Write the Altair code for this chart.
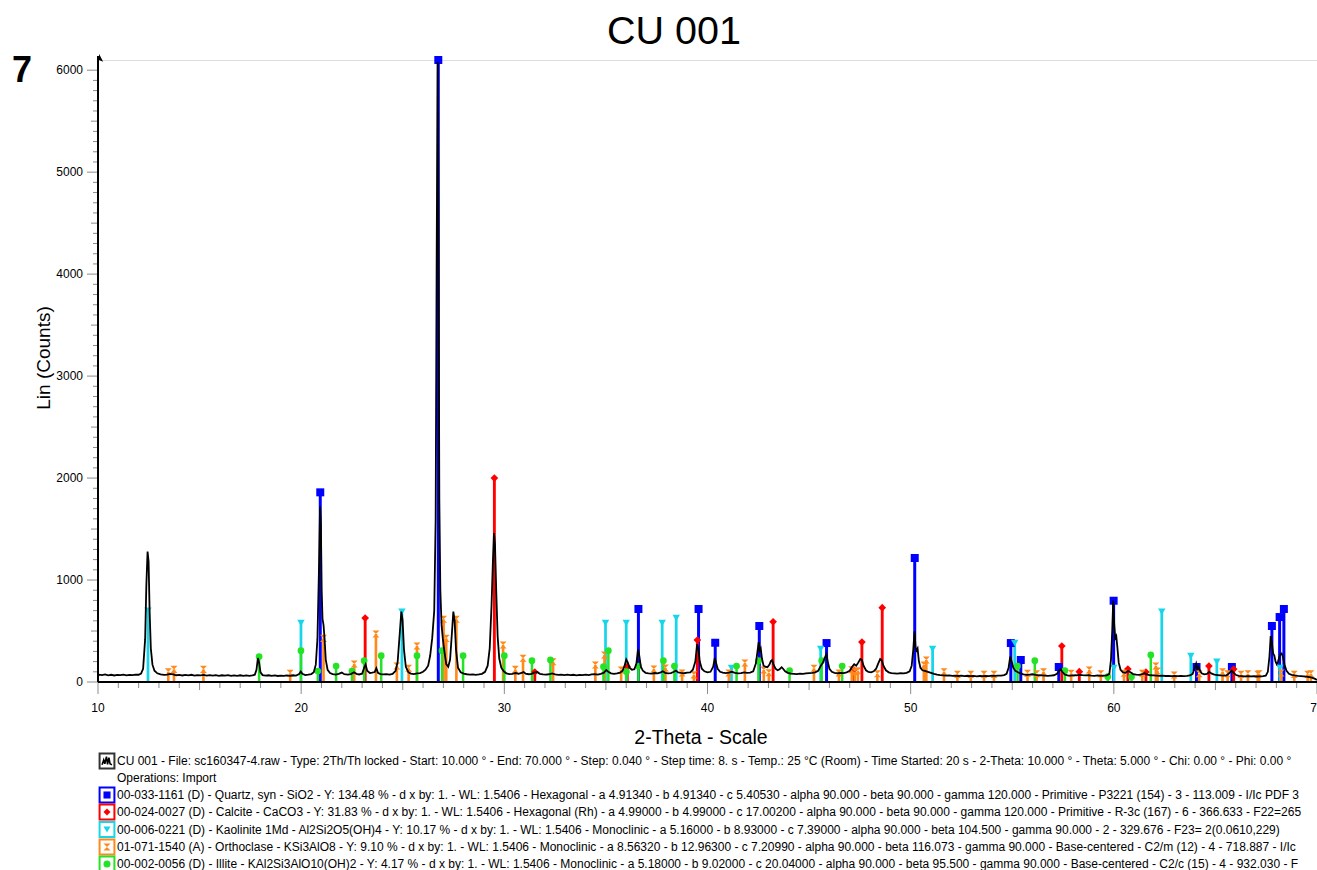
import altair as alt
import pandas as pd

# ---------------- measured scan (2-theta, counts) ----------------
scan_10_20 = [
    (10.00, 55), (10.05, 72), (10.20, 68), (10.35, 74), (10.50, 66), (10.65, 71), (10.80, 64),
    (10.95, 70), (11.10, 67), (11.25, 73), (11.40, 65), (11.55, 70), (11.70, 68), (11.85, 72),
    (12.00, 71), (12.12, 82), (12.22, 130), (12.32, 420), (12.38, 950), (12.44, 1280), (12.49, 1180),
    (12.54, 700), (12.60, 330), (12.68, 170), (12.78, 110), (12.92, 85), (13.08, 74), (13.25, 70),
    (13.40, 73), (13.55, 79), (13.70, 75), (13.85, 66), (14.00, 69), (14.15, 64), (14.30, 70),
    (14.45, 66), (14.60, 71), (14.75, 63), (14.90, 68), (15.05, 65), (15.20, 70), (15.35, 62),
    (15.50, 67), (15.65, 63), (15.80, 68), (15.95, 61), (16.10, 66), (16.25, 62), (16.40, 67),
    (16.55, 60), (16.70, 65), (16.85, 61), (17.00, 66), (17.15, 60), (17.30, 64), (17.45, 61),
    (17.60, 66), (17.72, 72), (17.80, 120), (17.87, 235), (17.93, 190), (18.00, 95), (18.10, 68),
    (18.25, 62), (18.40, 66), (18.55, 60), (18.70, 64), (18.85, 59), (19.00, 63), (19.15, 60),
    (19.30, 65), (19.45, 61), (19.60, 66), (19.75, 63), (19.90, 78), (19.98, 102),
]
scan_20_30 = [
    (20.06, 80), (20.20, 68), (20.35, 72), (20.50, 78), (20.62, 95), (20.72, 170), (20.80, 420),
    (20.87, 1050), (20.93, 1720), (20.97, 1560), (21.01, 900), (21.05, 620), (21.10, 560),
    (21.15, 430), (21.21, 220), (21.30, 120), (21.42, 88), (21.55, 78), (21.70, 72), (21.85, 80),
    (22.00, 92), (22.12, 76), (22.30, 72), (22.45, 78), (22.60, 96), (22.72, 80), (22.85, 74),
    (23.00, 82), (23.10, 140), (23.17, 172), (23.25, 110), (23.38, 88), (23.50, 92), (23.62, 98),
    (23.70, 135), (23.78, 90), (23.90, 78), (24.05, 74), (24.20, 78), (24.35, 72), (24.50, 80),
    (24.65, 110), (24.75, 200), (24.85, 470), (24.93, 690), (24.99, 610), (25.06, 320), (25.15, 150),
    (25.28, 95), (25.40, 82), (25.55, 78), (25.70, 84), (25.85, 88), (26.00, 100), (26.12, 120),
    (26.25, 160), (26.35, 260), (26.45, 430), (26.55, 700), (26.62, 1600), (26.67, 4200),
    (26.72, 6080), (26.76, 4400), (26.80, 1800), (26.85, 900), (26.91, 560), (26.97, 430),
    (27.05, 300), (27.14, 175), (27.24, 150), (27.33, 220), (27.42, 480), (27.49, 690), (27.55, 610),
    (27.62, 320), (27.72, 140), (27.85, 95), (28.00, 82), (28.15, 76), (28.30, 72), (28.45, 75),
    (28.60, 70), (28.75, 74), (28.90, 80), (29.05, 100), (29.18, 160), (29.28, 330), (29.37, 750),
    (29.44, 1200), (29.49, 1460), (29.54, 1350), (29.60, 900), (29.67, 450), (29.75, 230),
    (29.85, 140), (29.97, 105),
]
scan_30_40 = [
    (30.10, 85), (30.25, 78), (30.40, 80), (30.55, 88), (30.70, 80), (30.85, 90), (30.95, 97),
    (31.05, 82), (31.20, 76), (31.35, 80), (31.50, 95), (31.62, 98), (31.75, 80), (31.90, 74),
    (32.05, 72), (32.20, 76), (32.35, 84), (32.50, 74), (32.65, 70), (32.80, 73), (32.95, 68),
    (33.10, 72), (33.25, 67), (33.40, 71), (33.55, 66), (33.70, 70), (33.85, 68), (34.00, 73),
    (34.15, 68), (34.30, 74), (34.45, 78), (34.60, 72), (34.75, 80), (34.90, 92), (35.02, 118),
    (35.12, 100), (35.25, 85), (35.40, 80), (35.55, 84), (35.70, 92), (35.82, 110), (35.92, 160),
    (36.00, 220), (36.08, 190), (36.16, 140), (36.28, 120), (36.40, 125), (36.50, 180), (36.58, 320),
    (36.64, 260), (36.72, 150), (36.82, 110), (36.95, 90), (37.10, 85), (37.25, 82), (37.40, 88),
    (37.55, 84), (37.70, 95), (37.80, 105), (37.92, 90), (38.05, 85), (38.20, 88), (38.35, 100),
    (38.45, 112), (38.55, 95), (38.70, 90), (38.85, 86), (39.00, 92), (39.15, 95), (39.28, 120),
    (39.40, 200), (39.49, 370), (39.55, 330), (39.62, 200), (39.72, 130), (39.85, 105),
]
scan_40_50 = [
    (40.00, 95), (40.15, 100), (40.28, 150), (40.36, 235), (40.42, 190), (40.50, 130), (40.62, 100),
    (40.75, 92), (40.90, 88), (41.05, 92), (41.20, 100), (41.35, 90), (41.50, 85), (41.65, 88),
    (41.80, 94), (41.95, 90), (42.10, 92), (42.25, 105), (42.38, 180), (42.46, 300), (42.52, 390),
    (42.57, 310), (42.62, 330), (42.68, 230), (42.76, 160), (42.85, 150), (42.95, 145), (43.05, 170),
    (43.12, 205), (43.18, 215), (43.25, 170), (43.35, 130), (43.45, 115), (43.55, 125), (43.65, 145),
    (43.72, 130), (43.82, 105), (43.95, 90), (44.10, 82), (44.25, 80), (44.40, 78), (44.55, 82),
    (44.70, 80), (44.85, 85), (45.00, 88), (45.15, 90), (45.30, 95), (45.45, 110), (45.58, 160),
    (45.68, 190), (45.78, 240), (45.85, 275), (45.92, 200), (46.00, 130), (46.12, 100), (46.25, 90),
    (46.40, 86), (46.55, 90), (46.70, 88), (46.85, 95), (47.00, 110), (47.12, 150), (47.22, 175),
    (47.32, 160), (47.42, 190), (47.52, 225), (47.60, 215), (47.68, 160), (47.80, 115), (47.92, 98),
    (48.05, 95), (48.18, 105), (48.30, 130), (48.40, 180), (48.50, 225), (48.58, 210), (48.66, 160),
    (48.78, 115), (48.92, 95), (49.05, 88), (49.20, 85), (49.35, 82), (49.50, 86), (49.65, 84),
    (49.80, 90), (49.95, 105),
]
scan_50_60 = [
    (50.05, 160), (50.13, 320), (50.19, 500), (50.24, 340), (50.29, 310), (50.34, 330), (50.40, 210),
    (50.48, 140), (50.58, 115), (50.70, 110), (50.85, 100), (51.00, 90), (51.15, 80), (51.30, 72),
    (51.45, 68), (51.60, 65), (51.75, 62), (51.90, 64), (52.05, 60), (52.20, 63), (52.35, 59),
    (52.50, 62), (52.65, 58), (52.80, 61), (52.95, 57), (53.10, 60), (53.25, 56), (53.40, 59),
    (53.55, 57), (53.70, 60), (53.85, 58), (54.00, 62), (54.15, 60), (54.30, 63), (54.45, 62),
    (54.60, 68), (54.72, 80), (54.82, 140), (54.90, 250), (54.97, 200), (55.05, 140), (55.15, 110),
    (55.28, 95), (55.40, 85), (55.55, 75), (55.70, 70), (55.85, 72), (56.00, 76), (56.15, 70),
    (56.30, 66), (56.45, 64), (56.60, 62), (56.75, 60), (56.90, 63), (57.05, 66), (57.20, 80),
    (57.30, 110), (57.38, 125), (57.46, 100), (57.58, 75), (57.72, 66), (57.85, 62), (58.00, 64),
    (58.15, 66), (58.30, 70), (58.45, 67), (58.60, 65), (58.75, 66), (58.90, 63), (59.05, 61),
    (59.20, 64), (59.35, 60), (59.50, 63), (59.65, 65), (59.78, 80), (59.86, 220), (59.92, 500),
    (59.97, 800),
]
scan_60_70 = [
    (60.02, 560), (60.07, 430), (60.12, 450), (60.17, 350), (60.24, 190), (60.33, 120), (60.45, 95),
    (60.58, 90), (60.70, 108), (60.82, 95), (60.95, 78), (61.10, 72), (61.25, 70), (61.40, 76),
    (61.52, 85), (61.65, 72), (61.80, 66), (61.95, 64), (62.10, 62), (62.25, 60), (62.40, 63),
    (62.55, 59), (62.70, 61), (62.85, 58), (63.00, 60), (63.15, 57), (63.30, 59), (63.45, 58),
    (63.60, 60), (63.75, 64), (63.88, 80), (63.98, 140), (64.05, 180), (64.10, 130), (64.16, 150),
    (64.22, 120), (64.32, 85), (64.45, 75), (64.58, 80), (64.70, 100), (64.82, 82), (64.95, 72),
    (65.10, 68), (65.25, 64), (65.40, 62), (65.55, 66), (65.70, 90), (65.80, 112), (65.90, 90),
    (66.02, 68), (66.15, 60), (66.30, 58), (66.45, 56), (66.60, 58), (66.75, 55), (66.90, 57),
    (67.05, 54), (67.20, 56), (67.35, 58), (67.48, 62), (67.58, 100), (67.66, 250), (67.72, 450),
    (67.78, 380), (67.84, 280), (67.90, 260), (67.96, 200), (68.02, 175), (68.08, 200), (68.14, 240),
    (68.20, 270), (68.26, 280), (68.32, 250), (68.40, 170), (68.50, 110), (68.62, 80), (68.75, 70),
    (68.90, 64), (69.05, 60), (69.20, 58), (69.35, 55), (69.50, 52), (69.62, 48), (69.75, 42),
    (69.85, 35), (69.93, 28), (70.00, 20),
]

# ---------------- reference patterns (2-theta, stick height in counts) ----------------
quartz_sticks = [
    (20.94, 1860), (26.75, 6100), (36.60, 716), (39.56, 716), (40.38, 385), (42.55, 549),
    (45.86, 382), (50.20, 1216), (54.93, 382), (55.42, 216), (57.29, 147), (59.99, 797),
    (64.07, 147), (65.81, 147), (67.78, 549), (68.16, 637), (68.37, 716),
]
calcite_sticks = [
    (23.15, 627), (29.51, 2000), (31.50, 98), (36.05, 150), (39.50, 412), (43.23, 591),
    (47.18, 118), (47.60, 392), (48.60, 729), (57.44, 353), (58.30, 101), (60.69, 127),
    (61.58, 98), (64.68, 157), (65.90, 127),
]
kaolinite_sticks = [
    (12.46, 700), (19.99, 578), (24.96, 689), (34.98, 578), (36.00, 578), (37.77, 578),
    (38.46, 627), (41.18, 137), (45.57, 324), (51.08, 324), (55.12, 382), (60.00, 137),
    (62.36, 689), (63.79, 255), (65.07, 199), (68.17, 137),
]
orthoclase_sticks = [
    (13.46, 101), (13.74, 124), (15.19, 124), (19.46, 85), (21.10, 428), (22.61, 176),
    (23.68, 471), (24.71, 157), (25.29, 134), (25.70, 353), (27.01, 615), (27.14, 428),
    (27.64, 615), (29.94, 363), (30.54, 124), (30.92, 232), (32.40, 199), (34.48, 167),
    (34.93, 265), (35.75, 118), (37.36, 127), (37.93, 137), (38.75, 88), (39.33, 70),
    (41.05, 88), (41.84, 186), (42.77, 118), (43.02, 90), (45.24, 134), (46.47, 88),
    (47.10, 120), (47.25, 100), (47.40, 110), (48.36, 80), (50.65, 167), (50.77, 216),
    (51.64, 101), (52.30, 75), (52.96, 75), (53.61, 75), (54.10, 75), (55.75, 85),
    (56.20, 80), (56.54, 101), (57.90, 85), (58.79, 118), (59.36, 80), (60.50, 85),
    (61.40, 85), (62.07, 157), (62.15, 108), (62.97, 69), (64.20, 80), (65.35, 101),
    (65.60, 80), (66.26, 75), (66.60, 80), (67.08, 75), (67.15, 80), (68.23, 88),
    (68.88, 75), (69.54, 75), (69.70, 80),
]
illite_sticks = [
    (17.93, 250), (19.99, 307), (20.82, 108), (21.72, 157), (22.50, 108), (23.10, 209),
    (23.94, 258), (25.70, 258), (26.93, 307), (27.97, 258), (30.00, 258), (31.36, 209),
    (32.27, 216), (34.88, 150), (35.12, 307), (36.01, 101), (36.60, 157), (37.83, 209),
    (38.37, 157), (41.43, 157), (42.51, 209), (44.04, 111), (45.62, 209), (46.63, 157),
    (55.26, 157), (56.11, 209), (57.59, 111), (59.70, 52), (60.87, 52), (61.82, 265),
]

phase_names = ["Quartz", "Calcite", "Kaolinite", "Orthoclase", "Illite"]
phase_colors = ["#0000FF", "#FF0000", "#18D6EA", "#FF8A1C", "#24E324"]
phase_shapes = ["square", "diamond", "triangle-down", "M-1,-1L1,-1L-1,1L1,1Z", "circle"]
phase_sizes = [64, 45, 60, 42, 85]
phase_widths = [3, 2.5, 2.5, 2.5, 2.5]

# ---------------- text ----------------
title_text = "CU 001"
panel_tag = "7"
x_title = "2-Theta - Scale"
y_title = "Lin (Counts)"
x_tick_values = [10, 20, 30, 40, 50, 60, 70]
y_tick_values = [0, 1000, 2000, 3000, 4000, 5000, 6000]
x_mid_ticks = [15, 25, 35, 45, 55, 65]
x_minor_ticks = [11, 12, 13, 14, 16, 17, 18, 19, 21, 22, 23, 24, 26, 27, 28, 29, 31, 32, 33, 34,
                 36, 37, 38, 39, 41, 42, 43, 44, 46, 47, 48, 49, 51, 52, 53, 54, 56, 57, 58, 59,
                 61, 62, 63, 64, 66, 67, 68, 69]
y_mid_ticks = [500, 1500, 2500, 3500, 4500, 5500]
y_minor_ticks = [v for v in range(100, 6100, 100) if v % 500 != 0]

legend_lines = [
    "CU 001 - File: sc160347-4.raw - Type: 2Th/Th locked - Start: 10.000 ° - End: 70.000 ° - Step: 0.040 ° - Step time: 8. s - Temp.: 25 °C (Room) - Time Started: 20 s - 2-Theta: 10.000 ° - Theta: 5.000 ° - Chi: 0.00 ° - Phi: 0.00 °",
    "Operations: Import",
    "00-033-1161 (D) - Quartz, syn - SiO2 - Y: 134.48 % - d x by: 1. - WL: 1.5406 - Hexagonal - a 4.91340 - b 4.91340 - c 5.40530 - alpha 90.000 - beta 90.000 - gamma 120.000 - Primitive - P3221 (154) - 3 - 113.009 - I/Ic PDF 3",
    "00-024-0027 (D) - Calcite - CaCO3 - Y: 31.83 % - d x by: 1. - WL: 1.5406 - Hexagonal (Rh) - a 4.99000 - b 4.99000 - c 17.00200 - alpha 90.000 - beta 90.000 - gamma 120.000 - Primitive - R-3c (167) - 6 - 366.633 - F22=265",
    "00-006-0221 (D) - Kaolinite 1Md - Al2Si2O5(OH)4 - Y: 10.17 % - d x by: 1. - WL: 1.5406 - Monoclinic - a 5.16000 - b 8.93000 - c 7.39000 - alpha 90.000 - beta 104.500 - gamma 90.000 - 2 - 329.676 - F23=  2(0.0610,229)",
    "01-071-1540 (A) - Orthoclase - KSi3AlO8 - Y: 9.10 % - d x by: 1. - WL: 1.5406 - Monoclinic - a 8.56320 - b 12.96300 - c 7.20990 - alpha 90.000 - beta 116.073 - gamma 90.000 - Base-centered - C2/m (12) - 4 - 718.887 - I/Ic",
    "00-002-0056 (D) - Illite - KAl2Si3AlO10(OH)2 - Y: 4.17 % - d x by: 1. - WL: 1.5406 - Monoclinic - a 5.18000 - b 9.02000 - c 20.04000 - alpha 90.000 - beta 95.500 - gamma 90.000 - Base-centered - C2/c (15) - 4 - 932.030 - F",
]
legend_phase = [None, None, "Quartz", "Calcite", "Kaolinite", "Orthoclase", "Illite"]

# ---------------- build tables ----------------
scan = scan_10_20 + scan_20_30 + scan_30_40 + scan_40_50 + scan_50_60 + scan_60_70
scan_df = pd.DataFrame(scan, columns=["tt", "cps"])

rows = []
for name, sticks in zip(phase_names, [quartz_sticks, calcite_sticks, kaolinite_sticks,
                                      orthoclase_sticks, illite_sticks]):
    for tt, h in sticks:
        rows.append({"phase": name, "tt": tt, "h": h, "zero": 0})
stick_df = pd.DataFrame(rows)

FONT = "Liberation Sans"
W, H = 1219, 622
TICK = "#8c8c8c"
xscale = alt.Scale(domain=[10, 70], nice=False, zero=False)
yscale = alt.Scale(domain=[0, 6100], nice=False, zero=True)
color_scale = alt.Scale(domain=phase_names, range=phase_colors)
shape_scale = alt.Scale(domain=phase_names, range=phase_shapes)
size_scale = alt.Scale(domain=phase_names, range=phase_sizes)
width_scale = alt.Scale(domain=phase_names, range=phase_widths)

sticks = alt.Chart(stick_df).mark_rule().encode(
    x=alt.X("tt:Q", scale=xscale, axis=None),
    y=alt.Y("h:Q", scale=yscale, axis=None),
    y2="zero:Q",
    color=alt.Color("phase:N", scale=color_scale, legend=None),
    strokeWidth=alt.StrokeWidth("phase:N", scale=width_scale, legend=None),
)
markers = alt.Chart(stick_df).mark_point(filled=True, opacity=1).encode(
    x=alt.X("tt:Q", scale=xscale, axis=None),
    y=alt.Y("h:Q", scale=yscale, axis=None),
    color=alt.Color("phase:N", scale=color_scale, legend=None),
    shape=alt.Shape("phase:N", scale=shape_scale, legend=None),
    size=alt.Size("phase:N", scale=size_scale, legend=None),
)
line = alt.Chart(scan_df).mark_line(color="black", strokeWidth=1.8, interpolate="linear").encode(
    x=alt.X("tt:Q", scale=xscale, axis=None),
    y=alt.Y("cps:Q", scale=yscale, axis=None),
)

def xtick_layer(vals, length):
    return alt.Chart(pd.DataFrame({"v": vals})).mark_rule(color=TICK, strokeWidth=1).encode(
        x=alt.X("v:Q", scale=xscale, axis=None), y=alt.value(H), y2=alt.value(H + length))

def ytick_layer(vals, length):
    return alt.Chart(pd.DataFrame({"v": vals})).mark_rule(color=TICK, strokeWidth=1).encode(
        y=alt.Y("v:Q", scale=yscale, axis=None), x=alt.value(0), x2=alt.value(-length))

xlabels = alt.Chart(pd.DataFrame({"v": x_tick_values})).mark_text(
    baseline="top", align="center", fontSize=12, font=FONT, color="black"
).encode(x=alt.X("v:Q", scale=xscale, axis=None), y=alt.value(H + 21), text=alt.Text("v:Q", format="d"))
ylabels = alt.Chart(pd.DataFrame({"v": y_tick_values})).mark_text(
    baseline="middle", align="right", fontSize=12, font=FONT, color="black"
).encode(y=alt.Y("v:Q", scale=yscale, axis=None), x=alt.value(-15), text=alt.Text("v:Q", format="d"))

one = pd.DataFrame({"t": [title_text]})
x_domain = alt.Chart(one).mark_rule(color="black", strokeWidth=2).encode(
    x=alt.value(0), x2=alt.value(W), y=alt.value(H))
y_domain = alt.Chart(one).mark_rule(color="black", strokeWidth=2).encode(
    x=alt.value(0), y=alt.value(-4), y2=alt.value(H))
arrow_head = alt.Chart(one).mark_point(shape="M0,-1L1,0.9L0,0.5Z", filled=True, color="black",
                                       opacity=1, size=70).encode(x=alt.value(1), y=alt.value(-2))

title_layer = alt.Chart(one).mark_text(x=576, y=-16, align="center", baseline="alphabetic",
                                       fontSize=39.5, font=FONT, color="black").encode(text="t:N")
tag_layer = alt.Chart(pd.DataFrame({"t": [panel_tag]})).mark_text(
    x=-76, y=22, align="center", baseline="alphabetic", fontSize=36, fontWeight="bold",
    font=FONT, color="black").encode(text="t:N")
xtitle_layer = alt.Chart(pd.DataFrame({"t": [x_title]})).mark_text(
    x=603, y=H + 62, align="center", baseline="alphabetic", fontSize=19.5, font=FONT,
    color="black").encode(text="t:N")
ytitle_layer = alt.Chart(pd.DataFrame({"t": [y_title]})).mark_text(
    x=-48, y=298, align="center", baseline="alphabetic", angle=270, fontSize=19, font=FONT,
    color="black").encode(text="t:N")

legend_layers = []
legend_y = [701, 718, 735, 752, 769.5, 787, 804]
for i, (txt, ph) in enumerate(zip(legend_lines, legend_phase)):
    yy = legend_y[i]
    legend_layers.append(
        alt.Chart(pd.DataFrame({"t": [txt]})).mark_text(
            x=19, y=yy, align="left", baseline="middle", fontSize=12.0, font=FONT,
            color="black").encode(text="t:N"))
    if i == 0:
        legend_layers.append(alt.Chart(one).mark_point(
            shape="square", filled=False, color="#333333", strokeWidth=2, size=220, opacity=1
        ).encode(x=alt.value(9), y=alt.value(yy)))
        legend_layers.append(alt.Chart(one).mark_point(
            shape="M-0.9,0.7L-0.6,-0.2L-0.4,0.5L-0.1,-0.8L0.1,0.6L0.35,-0.6L0.55,0.5L0.9,0.7",
            filled=False, color="black", strokeWidth=1.6, size=120, opacity=1
        ).encode(x=alt.value(9), y=alt.value(yy)))
    elif ph is not None:
        k = phase_names.index(ph)
        legend_layers.append(alt.Chart(one).mark_point(
            shape="square", filled=False, color=phase_colors[k], strokeWidth=2, size=220, opacity=1
        ).encode(x=alt.value(9), y=alt.value(yy)))
        legend_layers.append(alt.Chart(one).mark_point(
            shape=phase_shapes[k], filled=True, color=phase_colors[k], size=50, opacity=1
        ).encode(x=alt.value(9), y=alt.value(yy)))

chart = alt.layer(
    sticks, markers, line,
    xtick_layer(x_minor_ticks, 6), xtick_layer(x_mid_ticks, 8), xtick_layer(x_tick_values, 12),
    ytick_layer(y_minor_ticks, 5), ytick_layer(y_mid_ticks, 7), ytick_layer(y_tick_values, 11),
    x_domain, y_domain, arrow_head, xlabels, ylabels,
    title_layer, tag_layer, xtitle_layer, ytitle_layer, *legend_layers,
).properties(
    width=W, height=H,
    autosize=alt.AutoSizeParams(type="none"),
    padding={"left": 98, "top": 60, "right": 0, "bottom": 188},
).configure_view(stroke="transparent", strokeWidth=0, fill="white").configure(background="white")

chart.save("out.html", embed_options={"renderer": "svg", "actions": False})
